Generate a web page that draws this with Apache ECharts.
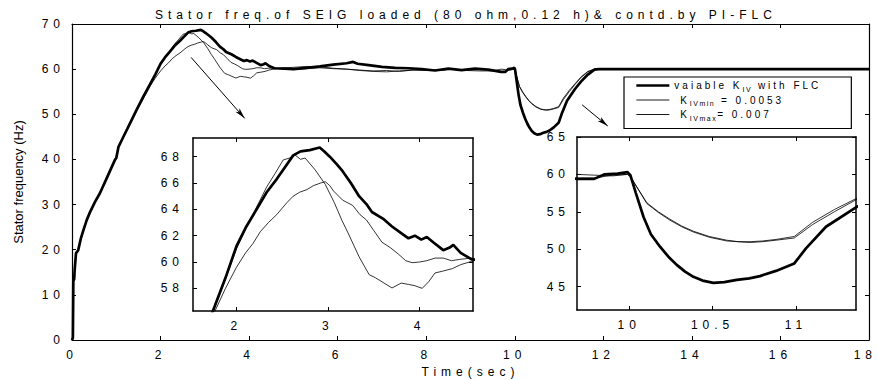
<!DOCTYPE html>
<html>
<head>
<meta charset="utf-8">
<script src="https://cdn.jsdelivr.net/npm/echarts@6/dist/echarts.min.js"></script>
<style>
html,body{margin:0;padding:0;background:#fff}
#chart{width:878px;height:380px}
</style>
</head>
<body>
<div id="chart"></div>
<script>
// ---------------- data ----------------
const TITLE = 'Stator freq.of SEIG loaded (80 ohm,0.12 h)& contd.by PI-FLC';
const X_NAME = 'Time(sec)';
const Y_NAME = 'Stator frequency (Hz)';
const SERIES_NAMES = ['vaiable KIV with FLC', 'KIVmin = 0.0053', 'KIVmax= 0.007'];
const LEGEND_RICH = [
  '{a|vaiable K}{s|IV}{a| with FLC}{p|}',
  '{a| K}{s|IVmin}{a| = 0.0053}',
  '{a| K}{s|IVmax}{a|= 0.007}'
];

// variable K_IV with FLC (thick)
const thickData = [[0,0],[0.02,0.5],[0.03,13],[0.05,13.5],[0.06,15.5],[0.09,19.2],[0.14,19.9],[0.2,22.5],[0.26,24.4],[0.33,26.5],[0.41,28.4],[0.52,30.6],[0.63,32.5],[0.8,36.2],[0.97,39.9],[1.0,40.3],[1.05,42.8],[1.15,44.8],[1.31,48.0],[1.45,50.8],[1.61,53.9],[1.76,56.6],[1.88,58.8],[2.0,61.2],[2.1,62.6],[2.22,64.0],[2.33,65.3],[2.44,66.3],[2.53,67.2],[2.62,68.1],[2.7,68.4],[2.8,68.5],[2.91,68.7],[2.96,68.4],[3.02,68.0],[3.1,67.4],[3.16,66.9],[3.25,66.0],[3.34,65.0],[3.42,64.4],[3.48,63.8],[3.6,63.3],[3.7,62.7],[3.8,62.2],[3.88,61.8],[3.95,62.0],[4.02,61.7],[4.08,61.9],[4.15,61.5],[4.26,60.9],[4.33,61.1],[4.37,61.3],[4.45,60.7],[4.57,60.2],[4.8,60.1],[5.0,60.0],[5.3,60.3],[5.6,60.6],[5.9,61.0],[6.2,61.3],[6.35,61.6],[6.45,61.2],[6.7,60.9],[7.0,60.5],[7.3,60.3],[7.6,60.2],[7.9,60.0],[8.2,59.7],[8.5,60.1],[8.8,59.8],[9.1,60.1],[9.4,59.9],[9.69,59.4],[9.79,59.4],[9.85,60.0],[9.93,60.1],[9.99,60.3],[10.007,59.9],[10.04,57.5],[10.086,54.3],[10.13,52.0],[10.186,50.3],[10.235,49.0],[10.285,47.9],[10.335,47.0],[10.385,46.3],[10.44,45.8],[10.505,45.5],[10.57,45.6],[10.645,45.9],[10.72,46.1],[10.784,46.4],[10.88,47.1],[10.99,48.1],[11.06,50.1],[11.18,53.0],[11.36,55.6],[11.5,57.3],[11.65,58.8],[11.8,59.9],[11.9,60.0],[12.1,60.0],[14,60.0],[16,60.0],[18,60.0]];

// K_IVmin = 0.0053 (thin)
const kminData = [[0,0],[0.02,0.5],[0.03,13],[0.05,13.5],[0.06,15.5],[0.09,19.2],[0.14,19.9],[0.2,22.5],[0.26,24.4],[0.33,26.5],[0.41,28.4],[0.52,30.6],[0.63,32.5],[0.8,36.2],[0.97,39.9],[1.0,40.3],[1.05,42.8],[1.15,44.8],[1.31,48.0],[1.45,50.8],[1.61,53.9],[1.76,56.5],[1.88,58.7],[2.0,61.0],[2.1,62.5],[2.2,63.9],[2.33,65.7],[2.42,66.7],[2.51,67.75],[2.58,67.9],[2.64,68.13],[2.7,67.8],[2.75,67.9],[2.86,67.0],[2.97,65.9],[3.07,64.5],[3.15,63.2],[3.22,62.2],[3.34,60.4],[3.45,59.04],[3.52,58.8],[3.59,58.5],[3.7,58.03],[3.8,58.4],[3.88,58.3],[3.95,58.2],[4.03,58.0],[4.1,58.5],[4.17,59.17],[4.25,59.3],[4.36,59.5],[4.45,59.8],[4.57,60.05],[4.8,60.3],[5.0,60.4],[5.3,60.6],[5.6,60.5],[5.9,60.2],[6.2,60.0],[6.5,59.7],[6.8,59.5],[7.1,59.4],[7.4,59.6],[7.7,59.8],[8.0,59.7],[8.3,59.8],[8.6,60.0],[8.9,59.7],[9.2,59.6],[9.5,59.6],[9.69,60.0],[9.79,59.9],[9.9,59.8],[9.99,60.0],[10.007,59.7],[10.106,56.1],[10.175,54.9],[10.245,53.87],[10.315,53.0],[10.385,52.3],[10.48,51.6],[10.585,51.1],[10.655,51.0],[10.725,51.0],[10.8,51.1],[10.88,51.3],[10.99,51.7],[11.1,53.6],[11.23,55.3],[11.36,56.76],[11.5,58.3],[11.65,59.5],[11.8,60.0],[12.1,60.0],[14,60.0],[16,60.0],[18,60.0]];

// K_IVmax = 0.007 (thin)
const kmaxData = [[0,0],[0.02,0.5],[0.03,13],[0.05,13.5],[0.06,15.5],[0.09,19.2],[0.14,19.9],[0.2,22.5],[0.26,24.4],[0.33,26.5],[0.41,28.4],[0.52,30.6],[0.63,32.5],[0.8,36.2],[0.97,39.9],[1.0,40.3],[1.05,42.8],[1.15,44.8],[1.31,48.0],[1.45,50.6],[1.61,53.4],[1.76,56.2],[1.88,58.0],[2.0,59.6],[2.1,60.7],[2.18,61.4],[2.26,62.3],[2.35,63.0],[2.44,63.6],[2.55,64.5],[2.62,65.0],[2.69,65.3],[2.77,65.5],[2.84,65.8],[2.92,66.0],[2.97,66.1],[3.02,65.8],[3.06,65.4],[3.16,64.7],[3.27,64.3],[3.35,63.6],[3.42,63.2],[3.5,62.4],[3.59,61.5],[3.68,61.1],[3.77,60.6],[3.85,60.1],[3.92,59.95],[4.0,60.0],[4.08,60.1],[4.17,60.3],[4.26,60.3],[4.35,60.1],[4.44,60.2],[4.57,60.3],[4.8,60.0],[5.0,59.9],[5.3,60.1],[5.6,60.3],[5.9,60.1],[6.2,60.0],[6.5,59.8],[6.8,59.6],[7.1,59.7],[7.4,59.5],[7.7,59.8],[8.0,59.9],[8.3,59.7],[8.6,60.0],[8.9,59.8],[9.2,60.0],[9.5,59.8],[9.69,59.5],[9.79,59.5],[9.9,59.9],[9.99,60.0],[10.007,59.7],[10.106,56.2],[10.175,55.0],[10.245,54.0],[10.315,53.1],[10.385,52.4],[10.48,51.7],[10.585,51.2],[10.655,51.0],[10.725,50.9],[10.8,51.0],[10.88,51.2],[10.99,51.5],[11.1,53.3],[11.23,55.0],[11.36,56.6],[11.5,58.2],[11.65,59.4],[11.8,60.0],[12.1,60.0],[14,60.0],[16,60.0],[18,60.0]];

// axis ranges and tick values
const mainX = {min: 0, max: 18, interval: 2};
const mainY = {min: 0, max: 70, interval: 10};
const inset1X = {min: 1.525, max: 4.585, ticks: [2, 3, 4]};
const inset1Y = {min: 56.28, max: 69.42, ticks: [58, 60, 62, 64, 66, 68]};
const inset2X = {min: 9.687, max: 11.36, ticks: [10, 10.5, 11]};
const inset2Y = {min: 41.87, max: 65.0, ticks: [45, 50, 55, 60, 65]};

// zoom arrows (data coordinates of main plot)
const arrowFrom = [[2.69, 62.6], [11.52, 52.1]];
const arrowTo = [[3.9, 49.1], [12.1, 47.4]];

// ---------------- styling helpers ----------------
const FONT = '"Liberation Sans", Arial, Helvetica, sans-serif';
function spacingFor(fs) {
  if (fs >= 12.5) return 0;
  if (fs >= 11.5) return 5;
  if (fs >= 9.5) return 3;
  return 1.5;
}
const mctx = document.createElement('canvas').getContext('2d');
if (echarts.setPlatformAPI) {
  echarts.setPlatformAPI({
    measureText: function (text, font) {
      mctx.font = font || '12px sans-serif';
      const m = /(\d+(?:\.\d+)?)px/.exec(font || '12px');
      const fs = m ? parseFloat(m[1]) : 12;
      const s = String(text);
      return {width: mctx.measureText(s).width + spacingFor(fs) * s.length};
    }
  });
}

const BLACK = '#000';
function valueAxis(grid, range, position, opts) {
  const base = {
    type: 'value', gridIndex: grid, position: position,
    min: range.min, max: range.max,
    axisLine: {show: true, onZero: false, lineStyle: {color: BLACK, width: opts.lw}},
    axisTick: {show: true, inside: true, length: 4, lineStyle: {color: BLACK, width: 1}},
    axisLabel: {show: !!opts.labels, color: BLACK, fontSize: 12, fontFamily: FONT, margin: opts.margin || 6},
    splitLine: {show: false}, splitArea: {show: false},
    z: opts.z || 0
  };
  if (range.interval != null) base.interval = range.interval;
  if (range.ticks) {
    base.axisTick.customValues = range.ticks;
    base.axisLabel.customValues = range.ticks;
  }
  return Object.assign(base, opts.extra || {});
}

const xAxes = [
  valueAxis(0, mainX, 'bottom', {lw: 1.2, labels: true, margin: 6, extra: {
    name: X_NAME, nameLocation: 'middle', nameGap: 19,
    nameTextStyle: {color: BLACK, fontSize: 12, fontFamily: FONT}}}),
  valueAxis(0, mainX, 'top', {lw: 1.2}),
  valueAxis(1, inset1X, 'bottom', {lw: 1.5, labels: true, margin: 6, z: 12}),
  valueAxis(1, inset1X, 'top', {lw: 1.5, z: 12}),
  valueAxis(2, inset2X, 'bottom', {lw: 1.5, labels: true, margin: 6, z: 12}),
  valueAxis(2, inset2X, 'top', {lw: 1.5, z: 12})
];
const yAxes = [
  valueAxis(0, mainY, 'left', {lw: 1.2, labels: true, margin: 7, extra: {
    name: Y_NAME, nameLocation: 'middle', nameGap: 47,
    nameTextStyle: {color: BLACK, fontSize: 13, fontFamily: FONT}}}),
  valueAxis(0, mainY, 'right', {lw: 1.2}),
  valueAxis(1, inset1Y, 'left', {lw: 1.5, labels: true, margin: 9, z: 12}),
  valueAxis(1, inset1Y, 'right', {lw: 1.5, z: 12}),
  valueAxis(2, inset2Y, 'left', {lw: 1.5, labels: true, margin: 7, z: 12}),
  valueAxis(2, inset2Y, 'right', {lw: 1.5, z: 12})
];

const seriesDefs = [
  {name: SERIES_NAMES[2], data: kmaxData, width: 0.8},
  {name: SERIES_NAMES[1], data: kminData, width: 0.8},
  {name: SERIES_NAMES[0], data: thickData, width: 2.7}
];

const series = [];
[0, 1, 2].forEach(function (g) {
  seriesDefs.forEach(function (d) {
    const s = {
      type: 'line', name: d.name, data: d.data,
      xAxisIndex: g * 2, yAxisIndex: g * 2,
      symbol: 'none', showSymbol: false, smooth: false,
      lineStyle: {color: BLACK, width: d.width},
      itemStyle: {color: BLACK},
      silent: true, clip: true, animation: false,
      z: g === 0 ? 2 : 11
    };
    if (g === 0 && d.data === thickData) {
      s.markLine = {
        silent: true, animation: false,
        symbol: ['none', 'arrow'], symbolSize: [4, 11],
        label: {show: false},
        lineStyle: {color: BLACK, width: 1, type: 'solid'},
        emphasis: {disabled: true},
        data: arrowFrom.map(function (p, i) { return [{coord: p}, {coord: arrowTo[i]}]; })
      };
    }
    series.push(s);
  });
});

const option = {
  animation: false,
  backgroundColor: '#fff',
  textStyle: {fontFamily: FONT},
  title: {
    text: TITLE, left: 155, top: 6, padding: 0,
    textStyle: {fontFamily: FONT, fontSize: 12, fontWeight: 'normal', color: BLACK}
  },
  grid: [
    {left: 72, right: 9, top: 24, bottom: 40, outerBoundsMode: 'none', containLabel: false},
    {left: 193, top: 138, width: 280, height: 173, show: true, backgroundColor: '#fff', borderWidth: 0, z: 10, outerBoundsMode: 'none', containLabel: false},
    {left: 577, top: 137, width: 279, height: 173, show: true, backgroundColor: '#fff', borderWidth: 0, z: 10, outerBoundsMode: 'none', containLabel: false}
  ],
  legend: {
    show: true, orient: 'vertical', left: 624, top: 77,
    padding: [2, 8, 6, 11], itemGap: 0, itemWidth: 33, itemHeight: 16,
    backgroundColor: '#fff', borderColor: BLACK, borderWidth: 1.2, borderRadius: 0,
    selectedMode: false, z: 20,
    itemStyle: {opacity: 0, borderWidth: 0},
    data: [
      {name: SERIES_NAMES[0], lineStyle: {width: 2.7, color: BLACK}, itemStyle: {opacity: 0, borderWidth: 0}},
      {name: SERIES_NAMES[1], lineStyle: {width: 0.9, color: BLACK}, itemStyle: {opacity: 0, borderWidth: 0}},
      {name: SERIES_NAMES[2], lineStyle: {width: 0.9, color: BLACK}, itemStyle: {opacity: 0, borderWidth: 0}}
    ],
    formatter: function (name) { return LEGEND_RICH[SERIES_NAMES.indexOf(name)]; },
    textStyle: {
      color: BLACK, fontFamily: FONT, fontSize: 10,
      rich: {
        a: {color: BLACK, fontFamily: FONT, fontSize: 10, lineHeight: 16, verticalAlign: 'middle'},
        s: {color: BLACK, fontFamily: FONT, fontSize: 7, lineHeight: 8, verticalAlign: 'bottom'},
        p: {fontSize: 10, lineHeight: 16, width: 22}
      }
    }
  },
  xAxis: xAxes,
  yAxis: yAxes,
  series: series
};

const chart = echarts.init(document.getElementById('chart'), null, {renderer: 'svg'});
chart.setOption(option);

// letter-spacing like the reference, then keep every text inside the canvas
function applySpacing() {
  const host = document.getElementById('chart').getBoundingClientRect();
  document.querySelectorAll('#chart svg text').forEach(function (el) {
    const fs = parseFloat(getComputedStyle(el).fontSize) || 12;
    el.style.letterSpacing = spacingFor(fs) + 'px';
    if (!el.hasAttribute('data-orig-tf')) {
      el.setAttribute('data-orig-tf', el.getAttribute('transform') || '');
    }
    const orig = el.getAttribute('data-orig-tf');
    if (orig) el.setAttribute('transform', orig); else el.removeAttribute('transform');
    const r = el.getBoundingClientRect();
    let dx = 0, dy = 0;
    if (r.width > 0) {
      if (r.right > host.right - 1) dx = host.right - 1 - r.right;
      if (r.bottom > host.bottom - 1) dy = host.bottom - 1 - r.bottom;
    }
    if (dx || dy) {
      el.setAttribute('transform', 'translate(' + dx.toFixed(2) + ',' + dy.toFixed(2) + ')' + (orig ? ' ' + orig : ''));
    }
  });
}
applySpacing();
chart.on('finished', applySpacing);
setTimeout(applySpacing, 50);
</script>
</body>
</html>
